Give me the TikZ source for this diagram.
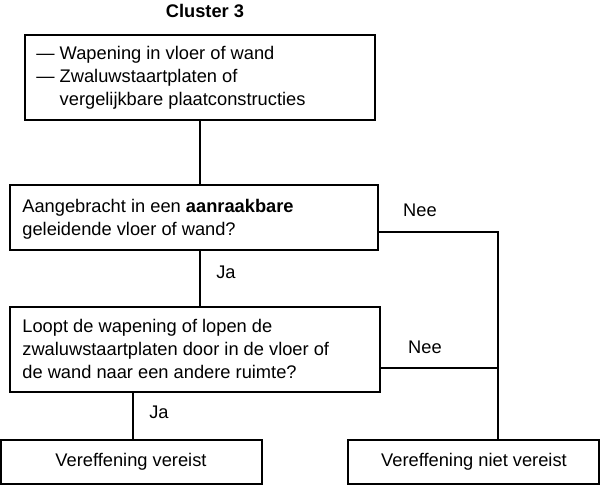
\documentclass[tikz,border=0pt]{standalone}
\usepackage{fontspec}
\setmainfont{Liberation Sans}
\begin{document}
\begin{tikzpicture}[x=0.02cm,y=-0.02cm,semithick,
  box/.style={draw,rectangle,inner sep=0pt},
  lbl/.style={font=\fontsize{10.4}{13}\selectfont}]
\useasboundingbox (0,0) rectangle (600,485);
\node[lbl,font=\bfseries\fontsize{10.4}{13}\selectfont] (title) at (205,11) {Cluster 3};
\draw (25,35) rectangle (375,120);
\coordinate (b1) at (200,120);
\node[lbl,anchor=north west,align=left] (t1) at (30,40) {--- Wapening in vloer of wand\\--- Zwaluwstaartplaten of\\\phantom{--- }vergelijkbare plaatconstructies};
\draw (10,185) rectangle (378,250);
\coordinate (b2t) at (200,185);
\coordinate (b2b) at (200,250);
\coordinate (b2r) at (378,232);
\node[lbl,anchor=north west,align=left] (t2) at (16,193) {Aangebracht in een \textbf{aanraakbare}\\geleidende vloer of wand?};
\draw (10,307) rectangle (380,392);
\coordinate (b3t) at (200,307);
\coordinate (b3b) at (133,392);
\coordinate (b3r) at (380,368);
\node[lbl,anchor=north west,align=left] (t3) at (16,313) {Loopt de wapening of lopen de\\zwaluwstaartplaten door in de vloer of\\de wand naar een andere ruimte?};
\draw (1,440) rectangle (262,484);
\node[lbl] (t4) at (131,462) {Vereffening vereist};
\coordinate (b4t) at (133,440);
\draw (348,440) rectangle (599,484);
\node[lbl] (t5) at (474,462) {Vereffening niet vereist};
\coordinate (b5t) at (498,440);
\coordinate (c1) at (498,232);
\draw (b1) -- (b2t);
\draw (b2b) -- (b3t);
\draw (b3b) -- (b4t);
\draw (b2r) -- (c1) -- (b5t);
\draw (b3r) -- (b3r -| c1);
\node[lbl] (ja1) at (226,272) {Ja};
\node[lbl] (ja2) at (159,412) {Ja};
\node[lbl] (nee1) at (420,210) {Nee};
\node[lbl] (nee2) at (425,347) {Nee};
\end{tikzpicture}
\end{document}
